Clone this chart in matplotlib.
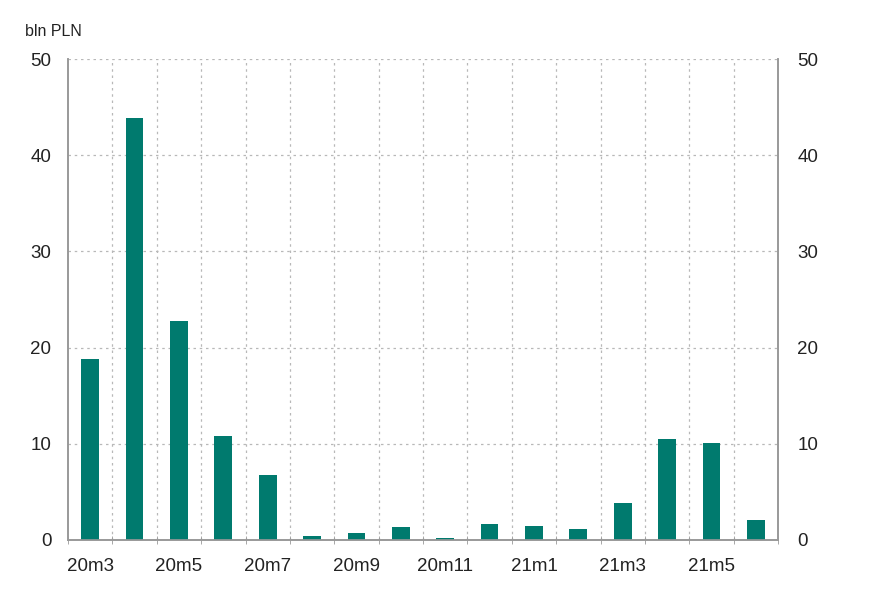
import numpy as np, matplotlib; matplotlib.use('Agg'); import matplotlib.pyplot as plt

months=['20m3','20m4','20m5','20m6','20m7','20m8','20m9','20m10','20m11','20m12','21m1','21m2','21m3','21m4','21m5','21m6']
values=[18.8,43.9,22.8,10.8,6.8,0.4,0.7,1.4,0.2,1.7,1.5,1.1,3.8,10.5,10.1,2.1]
yticks=[0,10,20,30,40,50]

plt.rcParams['font.family']=['Liberation Sans','DejaVu Sans']
plt.rcParams['text.color']='#222222'; plt.rcParams['xtick.labelcolor']='#222222'; plt.rcParams['ytick.labelcolor']='#222222'
fig=plt.figure(figsize=(8.81,6.08),dpi=100)
ax=fig.add_axes([68/881,1-540/608,710/881,481/608])
x=np.arange(len(months))
ax.bar(x,values,width=0.4,color='#007a6e',zorder=3)
ax.set_xlim(-0.5,len(months)-0.5); ax.set_ylim(0,50)
gc='#b8b8b8'
for b in np.arange(0.5,len(months)-0.5,1): ax.axvline(b,color=gc,ls=(0,(2,3)),lw=0.9,zorder=1)
for y in yticks[1:]: ax.axhline(y,color=gc,ls=(0,(2,3)),lw=0.9,zorder=1)
ax.set_xticks(x[::2]); ax.set_xticklabels(months[::2],fontsize=13.5)
ax.set_xticks(np.arange(-0.5,len(months),1),minor=True)
ax.tick_params(axis='x',which='major',length=0,pad=13)
ax.tick_params(axis='x',which='minor',length=6,direction='inout',color='#999999')
ax.set_yticks(yticks); ax.tick_params(axis='y',length=0,labelsize=13.5,pad=12)
ax2=ax.twinx(); ax2.set_ylim(0,50); ax2.set_yticks(yticks)
ax2.tick_params(axis='y',length=0,labelsize=13.5,pad=14)
for a in (ax,ax2):
    a.spines['top'].set_visible(False)
    for s in ('left','right','bottom'): a.spines[s].set_color('#999999'); a.spines[s].set_linewidth(1.2)
fig.text(25/881,1-32/608,'bln PLN',fontsize=11.5,va='center',ha='left')
fig.savefig('out.png',dpi=100)
